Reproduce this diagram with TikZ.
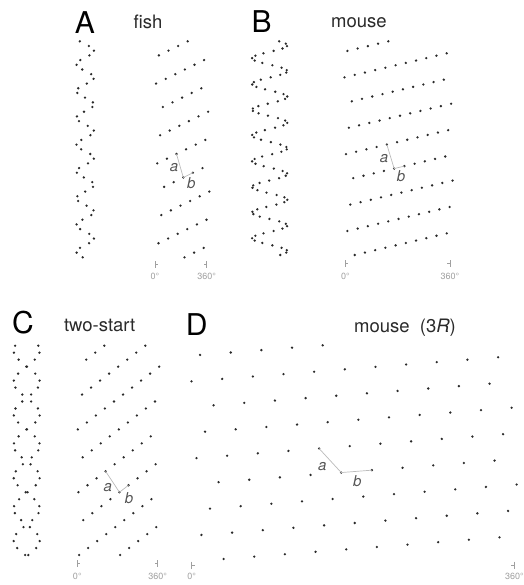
\documentclass[tikz,border=0pt]{standalone}
\usepackage{fontspec}
\setmainfont{TeX Gyre Heros}
\definecolor{dotc}{HTML}{2A2A2A}
\definecolor{lgrey}{HTML}{BBBBBB}
\definecolor{tgrey}{HTML}{A0A0A0}
\definecolor{titc}{HTML}{2A2A2A}
\definecolor{abc}{HTML}{555555}
\begin{document}
\begin{tikzpicture}[x=1pt,y=-1pt,
  dot/.style={circle,fill=dotc,inner sep=0pt,minimum size=2.6pt},
  abline/.style={draw=lgrey,line width=0.7pt},
  tickl/.style={draw=tgrey,line width=0.5pt},
  ticklab/.style={text=tgrey,font=\fontsize{9}{9}\selectfont,anchor=base},
  panel/.style={font=\fontsize{30}{30}\selectfont,anchor=base},
  ttl/.style={font=\fontsize{18.5}{20}\selectfont,text=titc,anchor=base},
  ablab/.style={font=\fontsize{15}{15}\selectfont\itshape,text=abc,anchor=center}]
\useasboundingbox (0,0) rectangle (523,585);

% ---------- A: fish ----------
\foreach \k in {0,...,46}{
  \pgfmathsetmacro\dd{Mod(33.2-9.6*\k,54.8)}
  \pgfmathsetmacro\xx{154.5+\dd}
  \pgfmathsetmacro\yy{41.3+4.696*\k}
  \pgfmathsetmacro\lx{85.2+8.72*sin(6.5693*\dd)}
  \node[dot] (A-\k) at (\xx,\yy) {};
  \node[dot] (AL-\k) at (\lx,\yy) {};
}
% ---------- B: mouse ----------
\foreach \k in {0,...,89}{
  \pgfmathsetmacro\dd{Mod(44.8-10.22*\k,109.5)}
  \pgfmathsetmacro\xx{343.5+\dd}
  \pgfmathsetmacro\yy{41.3+2.401*\k}
  \pgfmathsetmacro\lx{269.7+17.6*sin(3.28767*\dd)}
  \node[dot] (B-\k) at (\xx,\yy) {};
  \node[dot] (BL-\k) at (\lx,\yy) {};
}
% ---------- C: two-start ----------
\foreach \k in {0,...,30}{
  \pgfmathsetmacro\dd{Mod(26.8-9.04*\k,82)}
  \pgfmathsetmacro\de{Mod(67.8-9.04*\k,82)}
  \pgfmathsetmacro\xx{77.5+\dd}
  \pgfmathsetmacro\xy{77.5+\de}
  \pgfmathsetmacro\yy{345.7+6.977*\k}
  \pgfmathsetmacro\lx{26.7+13.05*sin(4.39024*\dd)}
  \pgfmathsetmacro\ly{26.7+13.05*sin(4.39024*\de)}
  \node[dot] (C-\k) at (\xx,\yy) {};
  \node[dot] (CC-\k) at (\xy,\yy) {};
  \node[dot] (CL-\k) at (\lx,\yy) {};
  \node[dot] (CCL-\k) at (\ly,\yy) {};
}
% ---------- D: mouse (3R) ----------
\foreach \k in {0,...,89}{
  \pgfmathsetmacro\dd{Mod(133.7-30.66*\k,328.7)}
  \pgfmathsetmacro\xx{189+\dd}
  \pgfmathsetmacro\yy{345.3+2.401*\k}
  \node[dot] (D-\k) at (\xx,\yy) {};
}

% a / b lines
\draw[abline] (A-24.center) -- (A-29.center) -- (A-28.center);
\draw[abline] (B-43.center) -- (B-53.center) -- (B-52.center);
\draw[abline] (C-18.center) -- (CC-21.center) -- (CC-20.center);
\draw[abline] (D-43.center) -- (D-53.center) -- (D-52.center);
\node[ablab] (Aa) at (174,167.7) {a};
\node[ablab] (Ab) at (191.3,183.3) {b};
\node[ablab] (Ba) at (384,158.3) {a};
\node[ablab] (Bb) at (401,175.7) {b};
\node[ablab] (Ca) at (107.7,487.3) {a};
\node[ablab] (Cb) at (129,497.7) {b};
\node[ablab] (Da) at (322.3,466.7) {a};
\node[ablab] (Db) at (357.3,480.7) {b};

% ticks
\draw[tickl] (155,261)--(155,268) (155,264.5)--(158,264.5);
\draw[tickl] (206.7,261)--(206.7,268) (206.7,264.5)--(203.7,264.5);
\draw[tickl] (345.3,260)--(345.3,267) (345.3,263.5)--(348.3,263.5);
\draw[tickl] (450,260)--(450,267) (450,263.5)--(447,263.5);
\draw[tickl] (77.3,560)--(77.3,567) (77.3,563.5)--(80.3,563.5);
\draw[tickl] (157.7,560)--(157.7,567) (157.7,563.5)--(154.7,563.5);
\draw[tickl] (191.7,561.5)--(191.7,568.5) (191.7,565)--(194.7,565);
\draw[tickl] (514.3,561.5)--(514.3,568.5) (514.3,565)--(511.3,565);
\node[ticklab] (A0) at (155,279.5) {0°};
\node[ticklab] (A360) at (206.7,279.5) {360°};
\node[ticklab] (B0) at (345.3,279.5) {0°};
\node[ticklab] (B360) at (450,279.5) {360°};
\node[ticklab] (C0) at (77.3,579) {0°};
\node[ticklab] (C360) at (157.7,579) {360°};
\node[ticklab] (D0) at (191.7,579) {0°};
\node[ticklab] (D360) at (514.3,579) {360°};

% headings
\node[panel] (PA) at (85,33.3) {A};
\node[panel] (PB) at (261.7,33) {B};
\node[panel] (PC) at (23,333) {C};
\node[panel] (PD) at (196.7,335) {D};
\node[ttl] (tA) at (148,28.3) {fish};
\node[ttl] (tB) at (359,27.3) {mouse};
\node[ttl] (tC) at (99.7,331.7) {two-start};
\node[ttl] (tD) at (405,332.3) {mouse\ \ (3\textit{R})};
\end{tikzpicture}
\end{document}
